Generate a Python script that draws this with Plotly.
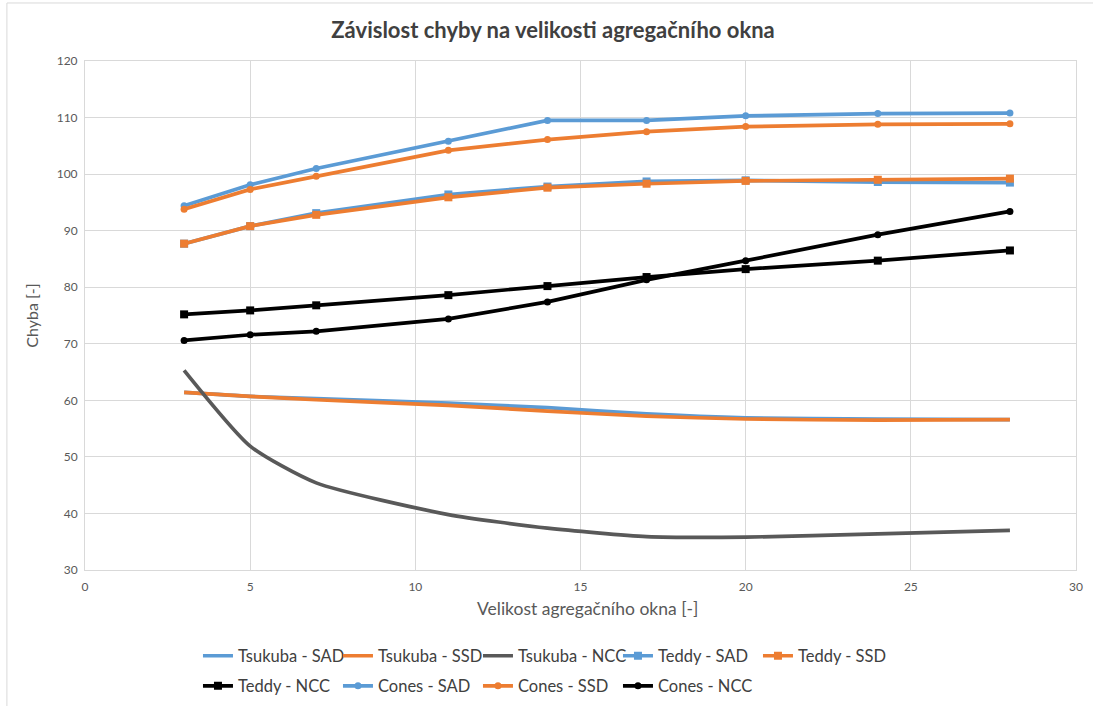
import plotly.graph_objects as go

# window size [-]
okno = [3, 5, 7, 11, 14, 17, 20, 24, 28]

tsukuba_sad = [61.4, 60.7, 60.3, 59.5, 58.7, 57.6, 56.9, 56.7, 56.6]
tsukuba_ssd = [61.4, 60.7, 60.1, 59.1, 58.1, 57.2, 56.7, 56.5, 56.6]
tsukuba_ncc = [65.3, 51.9, 45.4, 39.8, 37.4, 35.9, 35.8, 36.4, 37.0]
teddy_sad = [87.7, 90.8, 93.1, 96.4, 97.8, 98.7, 98.9, 98.6, 98.5]
teddy_ssd = [87.7, 90.8, 92.8, 95.9, 97.6, 98.3, 98.8, 99.0, 99.2]
teddy_ncc = [75.2, 75.9, 76.8, 78.6, 80.2, 81.8, 83.2, 84.7, 86.5]
cones_sad = [94.4, 98.1, 101.0, 105.8, 109.5, 109.5, 110.3, 110.7, 110.8]
cones_ssd = [93.8, 97.3, 99.6, 104.2, 106.1, 107.5, 108.4, 108.8, 108.9]
cones_ncc = [70.6, 71.6, 72.2, 74.4, 77.4, 81.3, 84.7, 89.3, 93.4]

MODRA = "#5B9BD5"
ORANZ = "#ED7D31"
SEDA = "#595959"
CERNA = "#000000"

serie = [
    ("Tsukuba - SAD", tsukuba_sad, MODRA, None, "legend"),
    ("Tsukuba - SSD", tsukuba_ssd, ORANZ, None, "legend"),
    ("Tsukuba - NCC", tsukuba_ncc, SEDA, None, "legend"),
    ("Teddy - SAD", teddy_sad, MODRA, "square", "legend"),
    ("Teddy - SSD", teddy_ssd, ORANZ, "square", "legend"),
    ("Teddy - NCC", teddy_ncc, CERNA, "square", "legend2"),
    ("Cones - SAD", cones_sad, MODRA, "circle", "legend2"),
    ("Cones - SSD", cones_ssd, ORANZ, "circle", "legend2"),
    ("Cones - NCC", cones_ncc, CERNA, "circle", "legend2"),
]

fig = go.Figure()
for jmeno, hodnoty, barva, znacka, leg in serie:
    if znacka is None:
        fig.add_trace(go.Scatter(x=okno, y=hodnoty, name=jmeno, mode="lines",
                                 line=dict(color=barva, width=3.7, shape="spline", smoothing=0.6),
                                 legend=leg))
    else:
        fig.add_trace(go.Scatter(x=okno, y=hodnoty, name=jmeno, mode="lines+markers",
                                 line=dict(color=barva, width=3.7),
                                 marker=dict(symbol=znacka, size=8 if znacka == "square" else 7, color=barva),
                                 legend=leg))

FONT = "Lato"
legenda = dict(orientation="h", xanchor="left", yanchor="middle", x=0.114,
               font=dict(family=FONT, size=16.5, color="#404040"),
               entrywidth=95, bgcolor="rgba(0,0,0,0)", tracegroupgap=0)

fig.update_layout(
    width=1093, height=706,
    margin=dict(l=85, r=17, t=61, b=136, autoexpand=False),
    paper_bgcolor="white", plot_bgcolor="white",
    font=dict(family=FONT, color="#595959"),
    title=dict(text="<b>Závislost chyby na velikosti agregačního okna</b>",
               x=0.506, xref="container", xanchor="center", y=0.957, yanchor="middle",
               font=dict(family=FONT, size=22, color="#404040")),
    legend=dict(legenda, y=-0.169),
    legend2=dict(legenda, y=-0.228),
    shapes=[
        dict(type="line", xref="paper", yref="paper", x0=-0.0788, x1=1.1, y0=1.114, y1=1.114,
             line=dict(color="#d9d9d9", width=1)),
        dict(type="line", xref="paper", yref="paper", x0=-0.0788, x1=-0.0788, y0=-0.3, y1=1.114,
             line=dict(color="#d9d9d9", width=1)),
    ],
    annotations=[
        dict(text="Velikost agregačního okna [-]", xref="paper", yref="paper",
             x=0.507, y=-0.075, xanchor="center", yanchor="middle", showarrow=False,
             font=dict(family=FONT, size=17.5, color="#595959")),
    ],
)

fig.update_xaxes(range=[0, 30], dtick=5, tick0=0, showgrid=True, gridcolor="#d9d9d9", gridwidth=1,
                 showline=True, linecolor="#d9d9d9", linewidth=1, mirror=True, zeroline=False,
                 ticks="", ticklabelstandoff=6, automargin=False,
                 tickfont=dict(family=FONT, size=12, color="#595959"))
fig.update_yaxes(range=[30, 120], dtick=10, tick0=30, showgrid=True, gridcolor="#d9d9d9", gridwidth=1,
                 showline=True, linecolor="#d9d9d9", linewidth=1, mirror=True, zeroline=False,
                 ticks="", ticklabelstandoff=4, automargin=False,
                 tickfont=dict(family=FONT, size=12, color="#595959"),
                 title=dict(text="Chyba [-]", standoff=14,
                            font=dict(family=FONT, size=16, color="#595959")))

fig.write_html("out.html", config={"displayModeBar": False},
               post_script="document.body.style.margin='0';document.body.style.overflow='hidden';")
